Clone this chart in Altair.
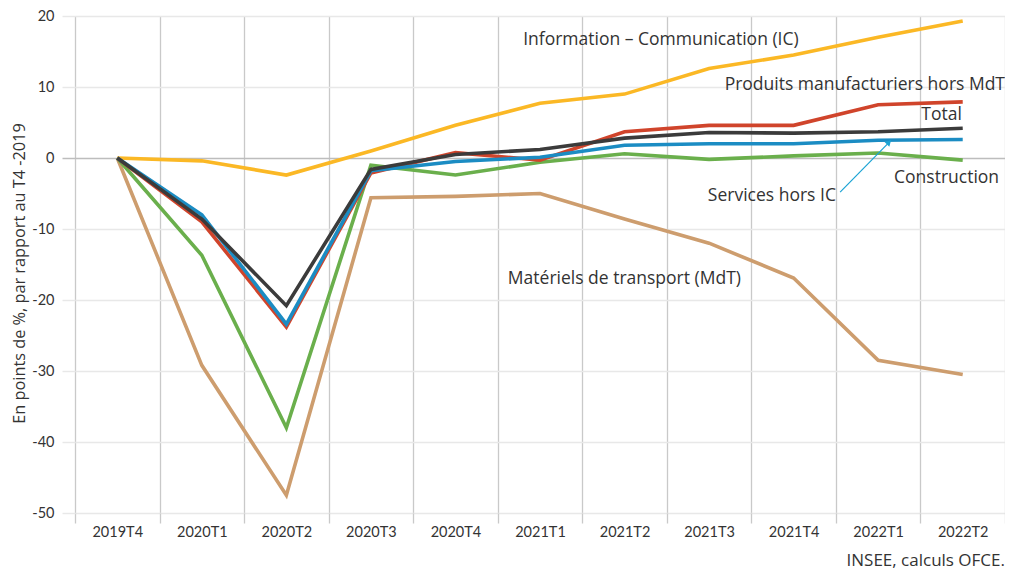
import altair as alt
import pandas as pd

quarters = ['2019T4', '2020T1', '2020T2', '2020T3', '2020T4', '2021T1',
            '2021T2', '2021T3', '2021T4', '2022T1', '2022T2']

mdt = [0, -29.2, -47.5, -5.6, -5.4, -5.0, -8.6, -12.0, -16.9, -28.5, -30.5]
construction = [0, -13.7, -38.0, -1.0, -2.4, -0.6, 0.6, -0.2, 0.3, 0.7, -0.3]
ic = [0, -0.4, -2.4, 1.0, 4.6, 7.7, 9.0, 12.6, 14.5, 17.0, 19.3]
manuf = [0, -9.0, -23.8, -2.1, 0.75, -0.3, 3.7, 4.6, 4.6, 7.5, 7.9]
services = [0, -8.0, -23.4, -1.8, -0.5, 0.1, 1.8, 2.0, 2.0, 2.5, 2.6]
total = [0, -8.6, -20.8, -1.6, 0.5, 1.2, 2.8, 3.6, 3.5, 3.7, 4.2]

series_names = ['MdT', 'Construction', 'IC', 'Manuf', 'Services', 'Total']
series_values = [mdt, construction, ic, manuf, services, total]
series_colors = ['#CD9D6E', '#6AAF4C', '#FBB825', '#D0442B', '#1B8CC3', '#3B3B3B']

rows = []
for name, vals in zip(series_names, series_values):
    for i, v in enumerate(vals):
        rows.append({'serie': name, 'idx': i, 'trim': quarters[i], 'val': v})
df = pd.DataFrame(rows)

# annotations (x in quarter index units, y in data units)
ann_text = ['Information – Communication (IC)', 'Produits manufacturiers hors MdT',
            'Total', 'Construction', 'Services hors IC', 'Matériels de transport (MdT)']
ann_x = [6.43, 10.5, 9.99, 10.43, 8.5, 4.62]
ann_y = [16.6, 10.3, 6.1, -2.8, -5.35, -17.0]
ann_align = ['center', 'right', 'right', 'right', 'right', 'left']
ann_df = pd.DataFrame({'t': ann_text, 'x': ann_x, 'y': ann_y, 'a': ann_align})

arrow_x = [8.55, 9.12]
arrow_y = [-4.8, 2.1]
arrow_df = pd.DataFrame({'x': arrow_x, 'y': arrow_y})

n = len(quarters)
band_edges = [i - 0.5 for i in range(n + 1)]
y_ticks = list(range(-50, 25, 5))
quarter_list = "[" + ",".join("'" + q + "'" for q in quarters) + ",'']"

W, H = 930, 497
FONT = 'Lato'
AFONT = 'Open Sans'
TXT = '#333333'

x_scale = alt.Scale(domain=[-0.5, n - 0.5], nice=False, zero=False)
y_scale = alt.Scale(domain=[-50, 20], nice=False, zero=False)

x_axis = alt.Axis(values=band_edges, grid=True, gridColor='#c9c9c9', gridWidth=1.3,
                  ticks=True, tickSize=10, tickColor='#c9c9c9', tickWidth=1.3,
                  domain=False, title=None,
                  labelExpr=quarter_list + "[round(datum.value + 0.5)]",
                  labelOffset=W / n / 2, labelFlush=False, labelOverlap=False,
                  labelPadding=2, labelFont=FONT, labelFontSize=14.5, labelColor=TXT)

y_axis = alt.Axis(values=y_ticks, grid=True,
                  gridColor={"condition": {"test": "datum.value === 0", "value": "#bdbdbd"}, "value": "#e8e8e8"},
                  gridWidth=1.5,
                  tickColor={"condition": {"test": "datum.value === 0", "value": "#bdbdbd"}, "value": "#e8e8e8"},
                  tickSize=13, tickWidth=1.5, domain=False,
                  labelExpr="'' + datum.value",
                  labelPadding=8, labelFont=FONT, labelFontSize=14.5, labelColor=TXT,
                  title='En points de %, par rapport au T4 -2019',
                  titleFont=AFONT, titleFontSize=16.3, titleFontWeight='normal', titleColor=TXT,
                  titleX=-56, titleY=257, titleAngle=270, titleAlign='center', titleBaseline='middle')

lines = alt.Chart(df).mark_line(strokeWidth=3.6, strokeJoin='miter').encode(
    x=alt.X('idx:Q', scale=x_scale, axis=x_axis),
    y=alt.Y('val:Q', scale=y_scale, axis=y_axis),
    color=alt.Color('serie:N', scale=alt.Scale(domain=series_names, range=series_colors), legend=None),
    order=alt.Order('idx:Q'),
    detail='serie:N',
)

label_layers = []
for al in ['left', 'center', 'right']:
    label_layers.append(
        alt.Chart(ann_df[ann_df['a'] == al]).mark_text(
            font=AFONT, fontSize=17.5, color=TXT, baseline='middle', align=al
        ).encode(
            x=alt.X('x:Q', scale=x_scale),
            y=alt.Y('y:Q', scale=y_scale),
            text='t:N',
        )
    )

arrow_line = alt.Chart(arrow_df).mark_line(color='#1AA3D4', strokeWidth=1.2).encode(
    x=alt.X('x:Q', scale=x_scale),
    y=alt.Y('y:Q', scale=y_scale),
)

arrow_head = alt.Chart(arrow_df.iloc[[1]]).mark_point(
    shape='triangle', filled=True, color='#1AA3D4', size=45, angle=45, opacity=1
).encode(
    x=alt.X('x:Q', scale=x_scale),
    y=alt.Y('y:Q', scale=y_scale),
)

chart = alt.layer(lines, arrow_line, arrow_head, *label_layers).properties(
    width=W, height=H,
    autosize=alt.AutoSizeParams(type='none'),
    padding={'left': 67, 'top': 8, 'right': 0, 'bottom': 63},
    background='white',
    title=alt.TitleParams('INSEE, calculs OFCE.', orient='bottom', anchor='end', frame='group',
                          font=AFONT, fontSize=17, fontWeight='normal', color=TXT, offset=14),
).configure_view(stroke=None)

chart.save('out.html', embed_options={'renderer': 'svg', 'actions': False})
